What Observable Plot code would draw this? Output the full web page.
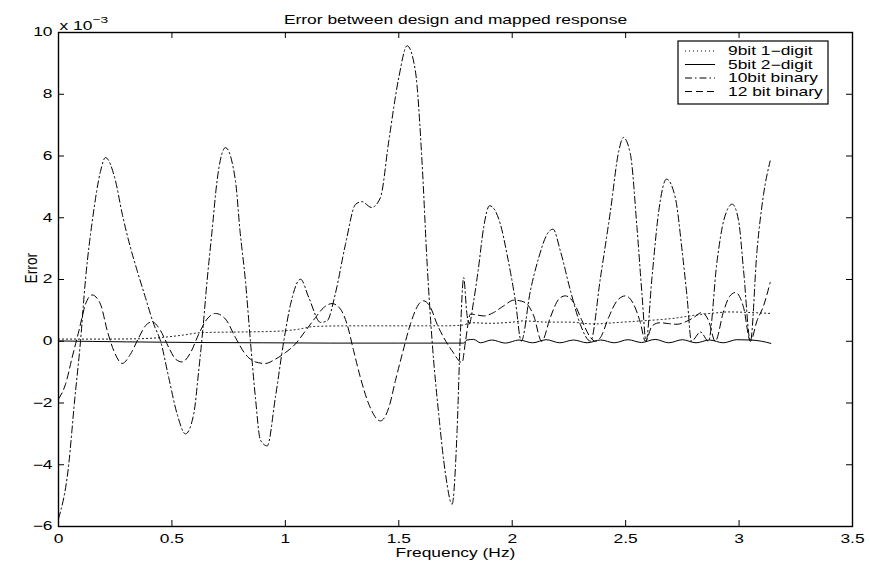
<!DOCTYPE html>
<html><head><meta charset="utf-8">
<script src="https://cdn.jsdelivr.net/npm/d3@7"></script>
<script src="https://cdn.jsdelivr.net/npm/@observablehq/plot@0.6"></script>
<style>
html,body{margin:0;padding:0;background:#fff;}
#chart{position:relative;width:870px;height:568px;}
</style></head><body><div id="chart"></div>
<script>
// ---- data (error values in units of 1e-3) ----
const titleText = "Error between design and mapped response";
const xLabel = "Frequency (Hz)";
const yLabel = "Error";
const xTicks = [0, 0.5, 1, 1.5, 2, 2.5, 3, 3.5];
const yTicks = [-6, -4, -2, 0, 2, 4, 6, 8, 10];
const seriesNames = ["9bit 1\u2212digit", "5bit 2\u2212digit", "10bit binary", "12 bit binary"];

const err9bit1digit = [[0,0.07],[0.2,0.07],[0.35,0.08],[0.45,0.12],[0.55,0.2],[0.63,0.28],[0.8,0.3],[0.95,0.32],[1.05,0.38],[1.13,0.48],[1.3,0.5],[1.5,0.5],[1.7,0.5],[1.78,0.52],[1.82,0.6],[1.9,0.58],[2.0,0.62],[2.05,0.66],[2.15,0.62],[2.25,0.62],[2.36,0.56],[2.45,0.6],[2.57,0.66],[2.65,0.7],[2.72,0.75],[2.8,0.84],[2.9,0.92],[2.95,0.95],[3.05,0.93],[3.14,0.9]];

const err5bit2digit = [[0,0.01],[0.3,-0.02],[0.6,-0.04],[0.9,-0.05],[1.2,-0.06],[1.5,-0.06],[1.785,-0.06],[1.80,0.04],[1.83,0.06],[1.86,-0.05],[1.91,0.04],[1.97,-0.06],[2.03,0.04],[2.09,-0.05],[2.15,0.05],[2.21,-0.05],[2.27,0.04],[2.33,-0.05],[2.39,0.04],[2.45,-0.05],[2.51,0.05],[2.57,-0.04],[2.63,0.06],[2.69,-0.05],[2.75,0.05],[2.81,-0.05],[2.87,0.04],[2.93,-0.05],[2.99,0.05],[3.05,0.04],[3.10,0.0],[3.14,-0.07]];

const err10bitBinary = [[0,-5.75],[0.045,-4],[0.07,-2],[0.097,0],[0.119,2],[0.151,4],[0.185,5.5],[0.207,5.95],[0.251,5.2],[0.281,4.12],[0.317,3.04],[0.347,2.28],[0.383,1.42],[0.42,0.55],[0.45,0],[0.486,-1.18],[0.523,-2.36],[0.56,-3.0],[0.596,-2.36],[0.618,-0.96],[0.633,0.12],[0.655,1.96],[0.677,3.58],[0.699,5.2],[0.736,6.27],[0.78,5.2],[0.80,3.58],[0.824,1.96],[0.846,0],[0.868,-1.82],[0.89,-3.2],[0.92,-3.39],[0.956,-1.82],[0.993,0],[1.023,1.2],[1.067,2.01],[1.103,1.42],[1.155,0.61],[1.184,0.66],[1.22,1.53],[1.265,3.14],[1.31,4.44],[1.338,4.52],[1.38,4.33],[1.419,4.65],[1.456,6.49],[1.50,8.54],[1.537,9.57],[1.573,8.76],[1.603,5.74],[1.625,2.5],[1.647,0],[1.676,-2.36],[1.706,-4.3],[1.735,-5.28],[1.757,-2.9],[1.772,0.34],[1.786,2.06],[1.80,0.9],[1.81,0.55],[1.83,1.3],[1.85,2.3],[1.874,3.68],[1.90,4.39],[1.948,3.79],[1.977,2.82],[2.014,1.31],[2.04,0],[2.08,1.63],[2.117,2.71],[2.154,3.47],[2.18,3.63],[2.212,2.93],[2.257,1.63],[2.30,0.55],[2.345,0],[2.389,2.06],[2.433,4.22],[2.47,6.17],[2.49,6.6],[2.521,6.06],[2.55,3.68],[2.572,1.53],[2.59,0],[2.616,2.06],[2.646,4.22],[2.68,5.25],[2.719,4.65],[2.749,2.93],[2.771,1.42],[2.79,0],[2.83,0.3],[2.865,0],[2.903,2.6],[2.932,3.9],[2.97,4.44],[2.998,3.9],[3.02,2.28],[3.05,0],[3.079,2.93],[3.108,4.76],[3.137,5.84]];

const err12bitBinary = [[0,-1.87],[0.031,-1.39],[0.06,-0.53],[0.09,0.34],[0.119,1.2],[0.148,1.5],[0.185,1.2],[0.215,0.34],[0.244,-0.31],[0.281,-0.72],[0.317,-0.42],[0.354,0.12],[0.383,0.5],[0.413,0.63],[0.45,0.34],[0.486,-0.2],[0.516,-0.58],[0.545,-0.67],[0.582,-0.37],[0.618,0.23],[0.655,0.72],[0.692,0.9],[0.736,0.72],[0.78,0.12],[0.824,-0.42],[0.868,-0.67],[0.912,-0.72],[0.956,-0.58],[1.0,-0.37],[1.044,-0.09],[1.089,0.34],[1.133,0.77],[1.169,1.09],[1.206,1.22],[1.243,1.04],[1.272,0.55],[1.301,-0.31],[1.331,-1.18],[1.368,-2.04],[1.419,-2.58],[1.456,-2.15],[1.485,-1.28],[1.515,-0.42],[1.551,0.55],[1.588,1.2],[1.61,1.31],[1.64,1.09],[1.669,0.55],[1.698,0.12],[1.735,-0.31],[1.779,-0.69],[1.794,0.0],[1.816,0.88],[1.845,0.85],[1.875,0.82],[1.918,0.93],[1.963,1.15],[2.007,1.33],[2.04,1.3],[2.066,1.2],[2.095,0.82],[2.13,0.0],[2.168,0.77],[2.205,1.36],[2.234,1.47],[2.271,1.25],[2.308,0.66],[2.345,0.12],[2.367,0.0],[2.389,0.12],[2.425,0.77],[2.462,1.31],[2.499,1.47],[2.535,1.2],[2.565,0.6],[2.587,0.0],[2.617,0.5],[2.65,0.6],[2.69,0.57],[2.727,0.55],[2.77,0.65],[2.80,0.77],[2.836,0.93],[2.866,0.66],[2.895,0.0],[2.932,0.98],[2.958,1.45],[2.984,1.58],[3.02,1.09],[3.05,0.0],[3.079,0.66],[3.108,1.15],[3.137,1.9]];

// ---- styles ----
const dashes = ["1,3", null, "7,3,1.5,3", "7,4"];
const series = [err9bit1digit, err5bit2digit, err10bitBinary, err12bitBinary];

const W = 870, H = 568, mL = 58, mR = 18, mT = 32, mB = 42;
const innerW = W - mL - mR, innerH = H - mT - mB;
const fmtY = d => d < 0 ? "\u2212" + (-d) : String(d);

const lineMarks = series.map((s, i) => Plot.line(s, {
  x: d => d[0], y: d => d[1], stroke: "black", strokeWidth: 1,
  strokeDasharray: dashes[i] || undefined, curve: "monotone-x"
}));

const svg = Plot.plot({
  width: W, height: H,
  marginLeft: mL, marginRight: mR, marginTop: mT, marginBottom: mB,
  style: {fontFamily: "'Liberation Sans', Arial, sans-serif", fontSize: "12px", background: "white", color: "black", overflow: "visible"},
  x: {domain: [0, 3.5]},
  y: {domain: [-6, 10]},
  marks: [
    Plot.axisX(xTicks, {tickSize: 0, tickPadding: 8, label: null, tickFormat: d => String(d), fontSize: 12}),
    Plot.axisY(yTicks, {tickSize: 0, tickPadding: 6, label: null, tickFormat: fmtY, fontSize: 12}),
    Plot.ruleX(xTicks, {x: d => d, insetTop: innerH - 6, stroke: "black"}),
    Plot.ruleX(xTicks, {x: d => d, insetBottom: innerH - 6, stroke: "black"}),
    Plot.ruleY(yTicks, {y: d => d, insetRight: innerW - 6, stroke: "black"}),
    Plot.ruleY(yTicks, {y: d => d, insetLeft: innerW - 6, stroke: "black"}),
    ...lineMarks,
    Plot.frame({stroke: "black", strokeWidth: 1.4}),
    Plot.text([titleText], {frameAnchor: "top", dy: -17, text: d => d, fontSize: 12}),
    Plot.text([xLabel], {frameAnchor: "bottom", dy: 30, text: d => d, fontSize: 12}),
    Plot.text([yLabel], {frameAnchor: "left", dx: -26, dy: 4, rotate: -90, text: d => d, fontSize: 12}),
    Plot.text(["x 10"], {frameAnchor: "top-left", dx: 1, dy: -11, text: d => d, textAnchor: "start", fontSize: 12}),
    Plot.text(["\u22123"], {frameAnchor: "top-left", dx: 34, dy: -16, text: d => d, textAnchor: "start", fontSize: 9.5})
  ]
});

// ---- legend ----
const lg = d3.select(svg).append("g").attr("class", "legend");
const lx = 678, ly = 41, lw = 150, lh = 63;
lg.append("rect").attr("x", lx).attr("y", ly).attr("width", lw).attr("height", lh)
  .attr("fill", "white").attr("stroke", "black").attr("stroke-width", 1.2);
seriesNames.forEach((name, i) => {
  const cy = ly + 10 + 13.5 * i;
  const ln = lg.append("line").attr("x1", lx + 7).attr("x2", lx + 37).attr("y1", cy).attr("y2", cy)
    .attr("stroke", "black").attr("stroke-width", 1);
  if (dashes[i]) ln.attr("stroke-dasharray", dashes[i]);
  lg.append("text").attr("x", lx + 50).attr("y", cy).attr("dy", "0.36em")
    .attr("text-anchor", "start")
    .attr("font-family", "'Liberation Sans', Arial, sans-serif").attr("font-size", 12)
    .attr("fill", "black").text(name);
});

// ---- widen text horizontally to match the reference's stretched lettering ----
const SX = 1.45;
d3.select(svg).selectAll("text").each(function () {
  const t = d3.select(this);
  let tr = t.attr("transform") || "";
  const xa = t.attr("x");
  const x = xa != null && !isNaN(+xa) ? +xa : 0;
  const ya = t.attr("y");
  const y = ya != null && !isNaN(+ya) ? +ya : 0;
  if (xa != null && !isNaN(+xa)) t.attr("x", null);
  if (ya != null && !isNaN(+ya)) t.attr("y", null);
  const base = (x || y) ? `translate(${x},${y}) ` : "";
  if (tr.includes("rotate")) t.attr("transform", base + tr + " scale(1.15,1.3)");
  else t.attr("transform", base + tr + ` scale(${SX},1)`);
});

document.getElementById("chart").appendChild(svg);
</script></body></html>
